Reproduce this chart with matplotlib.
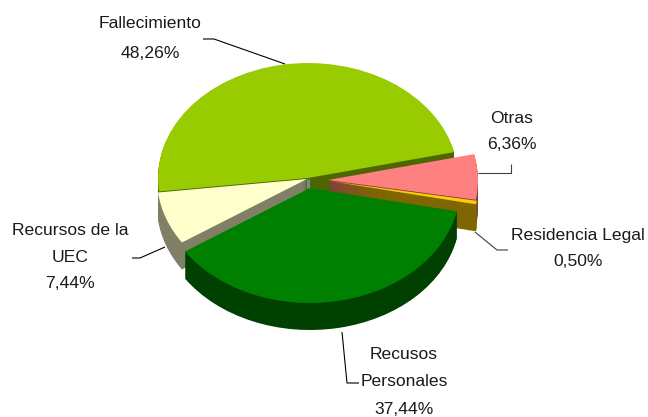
import matplotlib
matplotlib.use('Agg')
from matplotlib import pyplot as plt

# values, in pie order (counterclockwise from startangle)
labels = ['Fallecimiento', 'Recursos de la\nUEC', 'Recusos\nPersonales', 'Residencia Legal', 'Otras']
values = [48.26, 7.44, 37.44, 0.50, 6.36]
pct_labels = ['48,26%', '7,44%', '37,44%', '0,50%', '6,36%']
top_colors = ['#99CC00', '#FFFFCC', '#008000', '#FFCC00', '#FF8080']
side_colors = ['#4D6600', '#808066', '#004000', '#806600', '#804040']

W, H = 648, 417
squash = 115 / 150  # ellipse height / width
radius = 150
depth = 27
start = 13

# slice apex in pixels (each slice is pulled out by a different amount)
centers = [(308, 178), (307, 179), (310, 188), (329, 181), (328, 180)]
# back to front
order = [0, 4, 3, 1, 2]

plt.rcParams['font.family'] = ['Liberation Sans', 'DejaVu Sans']
fig = plt.figure(figsize=(W / 100, H / 100), dpi=100)
ax = fig.add_axes([0, 0, 1, 1])


def py(y):
    return (H - y) / squash


starts = []
a = start
for v in values:
    starts.append(a)
    a += v * 3.6

for i in order:
    cx, cy = centers[i]
    # stack the side first, then the top
    for d in range(depth, 0, -1):
        ax.pie([values[i] / 100], startangle=starts[i], center=(cx, py(cy + d)), radius=radius,
               colors=[side_colors[i]], normalize=False, frame=True)
    ax.pie([values[i] / 100], startangle=starts[i], center=(cx, py(cy)), radius=radius,
           colors=[top_colors[i]], normalize=False, frame=True)

ax.set_aspect('auto')
ax.set_xlim(0, W)
ax.set_ylim(0, H / squash)
ax.axis('off')

# small blue-grey sliver at the middle
ax.plot([308, 308], [py(179), py(188)], color='#6F8C9A', lw=2.2, solid_capstyle='butt')

# leader lines
leaders = [
    [(203, 39), (214, 39), (285, 64)],
    [(132, 258), (140, 258), (165, 247)],
    [(342, 332), (347, 383), (359, 383)],
    [(475, 232), (497, 250), (508, 250)],
    [(478, 173), (511, 173), (511, 164)],
]
leader_colors = ['black', 'black', 'black', '#404040', '#404040']
for pts, c in zip(leaders, leader_colors):
    ax.plot([p[0] for p in pts], [py(p[1]) for p in pts], color=c, lw=0.8, solid_capstyle='butt')

# label block centres
label_pos = [(150, 39), (70, 257), (404, 382), (578, 248.5), (512, 131.5)]
line_gap = [2.25, 1.96, 2.03, 1.96, 1.96]
for i in range(len(labels)):
    x, y = label_pos[i]
    ax.text(x, py(y), labels[i] + '\n' + pct_labels[i], ha='center', va='center',
            fontsize=12.6, color='#1A1A1A', linespacing=line_gap[i])

fig.savefig('out.png', dpi=100)
